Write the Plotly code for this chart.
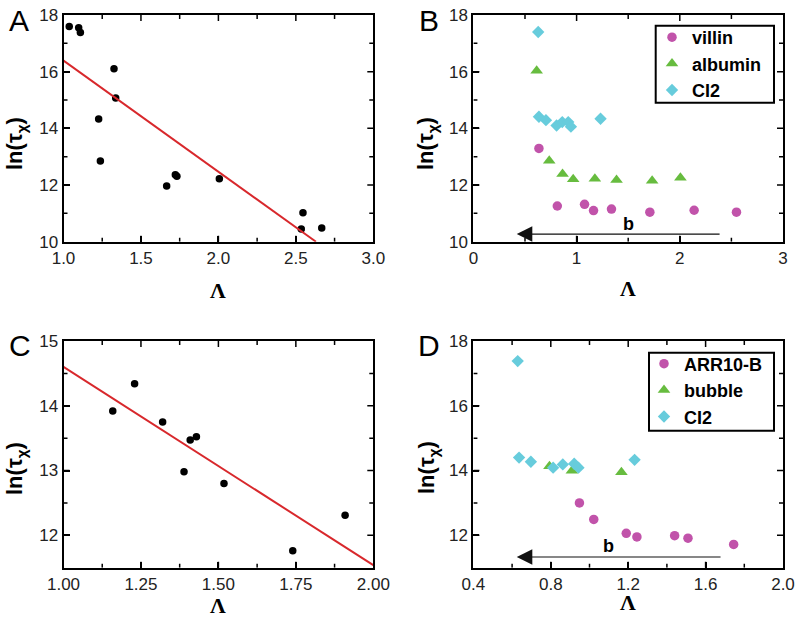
import plotly.graph_objects as go

# ---------------- data ----------------
# Panel A
a_lam = [1.037, 1.098, 1.109, 1.326, 1.337, 1.227, 1.238, 1.666, 1.722, 1.732, 2.006, 2.546, 2.535, 2.667]
a_ln = [17.59, 17.55, 17.38, 16.10, 15.07, 14.33, 12.85, 11.97, 12.36, 12.31, 12.22, 11.02, 10.45, 10.48]
a_fit_lam = [1.0, 2.63]
a_fit_ln = [16.39, 10.0]
a_xticks = [1.0, 1.5, 2.0, 2.5, 3.0]
a_xminor = [1.25, 1.75, 2.25, 2.75]
a_yticks = [10, 12, 14, 16, 18]
a_yminor = [11, 13, 15, 17]

# Panel B
b_villin_lam = [0.635, 0.813, 1.077, 1.164, 1.338, 1.710, 2.139, 2.549]
b_villin_ln = [13.29, 11.26, 11.32, 11.10, 11.15, 11.04, 11.11, 11.04]
b_albumin_lam = [0.613, 0.735, 0.864, 0.967, 1.177, 1.387, 1.732, 2.006]
b_albumin_ln = [16.03, 12.86, 12.39, 12.20, 12.22, 12.18, 12.15, 12.26]
b_ci2_lam = [0.628, 0.635, 0.703, 0.806, 0.861, 0.919, 0.945, 1.232]
b_ci2_ln = [17.40, 14.41, 14.29, 14.10, 14.22, 14.22, 14.06, 14.34]
b_arrow = {"tail": [2.40, 10.27], "head": [0.42, 10.27], "label": [1.506, 10.61]}
b_xticks = [0, 1, 2, 3]
b_xminor = [0.5, 1.5, 2.5]
b_yticks = [10, 12, 14, 16, 18]
b_yminor = [11, 13, 15, 17]

# Panel C
c_lam = [1.159, 1.2295, 1.320, 1.409, 1.429, 1.389, 1.518, 1.740, 1.909]
c_ln = [13.92, 14.34, 13.75, 13.47, 13.52, 12.98, 12.80, 11.76, 12.31]
c_fit_lam = [1.0, 2.0]
c_fit_ln = [14.60, 11.54]
c_xticks = [1.0, 1.25, 1.5, 1.75, 2.0]
c_xminor = [1.125, 1.375, 1.625, 1.875]
c_yticks = [12, 13, 14, 15]
c_yminor = [12.5, 13.5, 14.5]

# Panel D
d_arr_lam = [0.948, 1.022, 1.19, 1.245, 1.440, 1.509, 1.745]
d_arr_ln = [13.00, 12.49, 12.06, 11.95, 11.99, 11.91, 11.72]
d_bubble_lam = [0.793, 0.909, 1.165]
d_bubble_ln = [14.13, 13.99, 13.95]
d_ci2_lam = [0.629, 0.636, 0.697, 0.812, 0.862, 0.921, 0.943, 1.233]
d_ci2_ln = [17.38, 14.40, 14.27, 14.09, 14.19, 14.21, 14.09, 14.33]
d_arrow = {"tail": [1.685, 11.33], "head": [0.624, 11.33], "label": [1.098, 11.67]}
d_xticks = [0.4, 0.8, 1.2, 1.6, 2.0]
d_xminor = [0.6, 1.0, 1.4, 1.8]
d_yticks = [12, 14, 16, 18]
d_yminor = [13, 15, 17]

panel_letters = ["A", "B", "C", "D"]

# ---------------- styling ----------------
W, H = 799, 624
MAG = "#C153AA"
GRN = "#67BC3F"
CYA = "#67CCDC"
RED = "#D8282C"
SANS = "Liberation Sans, Arial, sans-serif"
MAJ_LEN, MIN_LEN = 6, 4

# plot-area pixel boxes (left, right, top, bottom)
BOX_A = (63.5, 373.3, 15, 241.7)
BOX_B = (473.4, 783.0, 15, 241.7)
BOX_C = (63.5, 373.3, 341, 567.7)
BOX_D = (473.4, 783.0, 341, 567.7)


def px_x(p):
    return p / W


def px_y(p):
    return 1 - p / H


fig = go.Figure()

fig.add_trace(go.Scatter(x=a_lam, y=a_ln, mode="markers", xaxis="x", yaxis="y",
                         marker=dict(color="black", size=7.5), showlegend=False))
fig.add_trace(go.Scatter(x=a_fit_lam, y=a_fit_ln, mode="lines", xaxis="x", yaxis="y",
                         line=dict(color=RED, width=2), showlegend=False))

fig.add_trace(go.Scatter(x=b_villin_lam, y=b_villin_ln, mode="markers", name="villin",
                         xaxis="x2", yaxis="y2", legend="legend",
                         marker=dict(color=MAG, size=9.5, symbol="circle")))
fig.add_trace(go.Scatter(x=b_albumin_lam, y=b_albumin_ln, mode="markers", name="albumin",
                         xaxis="x2", yaxis="y2", legend="legend",
                         marker=dict(color=GRN, size=11, symbol="triangle-up")))
fig.add_trace(go.Scatter(x=b_ci2_lam, y=b_ci2_ln, mode="markers", name="CI2",
                         xaxis="x2", yaxis="y2", legend="legend",
                         marker=dict(color=CYA, size=9.5, symbol="diamond")))

fig.add_trace(go.Scatter(x=c_lam, y=c_ln, mode="markers", xaxis="x3", yaxis="y3",
                         marker=dict(color="black", size=7.5), showlegend=False))
fig.add_trace(go.Scatter(x=c_fit_lam, y=c_fit_ln, mode="lines", xaxis="x3", yaxis="y3",
                         line=dict(color=RED, width=2), showlegend=False))

fig.add_trace(go.Scatter(x=d_arr_lam, y=d_arr_ln, mode="markers", name="ARR10-B",
                         xaxis="x4", yaxis="y4", legend="legend2",
                         marker=dict(color=MAG, size=9.5, symbol="circle")))
fig.add_trace(go.Scatter(x=d_bubble_lam, y=d_bubble_ln, mode="markers", name="bubble",
                         xaxis="x4", yaxis="y4", legend="legend2",
                         marker=dict(color=GRN, size=11, symbol="triangle-up")))
fig.add_trace(go.Scatter(x=d_ci2_lam, y=d_ci2_ln, mode="markers", name="CI2",
                         xaxis="x4", yaxis="y4", legend="legend2",
                         marker=dict(color=CYA, size=9.5, symbol="diamond")))

ranges = {
    ("x", "y"): ([1, 3], [10, 18]),
    ("x2", "y2"): ([0, 3], [10, 18]),
    ("x3", "y3"): ([1, 2], [11.5, 15]),
    ("x4", "y4"): ([0.4, 2.0], [11, 18]),
}
panels = {
    ("x", "y"): (BOX_A, a_xticks, a_xminor, a_yticks, a_yminor),
    ("x2", "y2"): (BOX_B, b_xticks, b_xminor, b_yticks, b_yminor),
    ("x3", "y3"): (BOX_C, c_xticks, c_xminor, c_yticks, c_yminor),
    ("x4", "y4"): (BOX_D, d_xticks, d_xminor, d_yticks, d_yminor),
}

# inside tick marks on all four sides of each frame
for (xr, yr), (box, xmaj, xmin_, ymaj, ymin_) in panels.items():
    (x0r, x1r), (y0r, y1r) = ranges[(xr, yr)]
    wpx, hpx = box[1] - box[0], box[3] - box[2]
    tx, ty = [], []
    for vals, L in ((xmaj, MAJ_LEN), (xmin_, MIN_LEN)):
        dy = L * (y1r - y0r) / hpx
        for v in vals:
            if v <= x0r or v >= x1r:
                continue
            tx += [v, v, None, v, v, None]
            ty += [y0r, y0r + dy, None, y1r, y1r - dy, None]
    for vals, L in ((ymaj, MAJ_LEN), (ymin_, MIN_LEN)):
        dx = L * (x1r - x0r) / wpx
        for v in vals:
            if v <= y0r or v >= y1r:
                continue
            tx += [x0r, x0r + dx, None, x1r, x1r - dx, None]
            ty += [v, v, None, v, v, None]
    fig.add_trace(go.Scatter(x=tx, y=ty, mode="lines", xaxis=xr, yaxis=yr,
                             line=dict(color="black", width=1.5), hoverinfo="skip",
                             showlegend=False))


def axis(box, horizontal, rng, tickvals, fmt, anchor):
    if horizontal:
        domain = [px_x(box[0]), px_x(box[1])]
    else:
        domain = [px_y(box[3]), px_y(box[2])]
    return dict(domain=domain, range=rng, tickmode="array", tickvals=tickvals, tickformat=fmt,
                showline=True, mirror=True, linecolor="black", linewidth=2,
                ticks="inside", ticklen=6, tickwidth=1.5, tickcolor="black",
                showgrid=False, zeroline=False, anchor=anchor, automargin=False,
                tickfont=dict(family=SANS, size=17, color="#222"))


legend_boxes = [
    dict(type="rect", xref="paper", yref="paper", x0=px_x(655.7), x1=px_x(774),
         y0=px_y(102.7), y1=px_y(25.7), line=dict(color="black", width=2)),
    dict(type="rect", xref="paper", yref="paper", x0=px_x(649), x1=px_x(774),
         y0=px_y(430.7), y1=px_y(352.7), line=dict(color="black", width=2)),
]

leg_font = dict(family=SANS, size=18, color="black", weight="bold")
fig.update_layout(
    width=W, height=H, margin=dict(l=0, r=0, t=0, b=0),
    paper_bgcolor="white", plot_bgcolor="white",
    xaxis=axis(BOX_A, True, ranges[("x", "y")][0], a_xticks, ".1f", "y"),
    yaxis=axis(BOX_A, False, ranges[("x", "y")][1], a_yticks, "d", "x"),
    xaxis2=axis(BOX_B, True, ranges[("x2", "y2")][0], b_xticks, "d", "y2"),
    yaxis2=axis(BOX_B, False, ranges[("x2", "y2")][1], b_yticks, "d", "x2"),
    xaxis3=axis(BOX_C, True, ranges[("x3", "y3")][0], c_xticks, ".2f", "y3"),
    yaxis3=axis(BOX_C, False, ranges[("x3", "y3")][1], c_yticks, "d", "x3"),
    xaxis4=axis(BOX_D, True, ranges[("x4", "y4")][0], d_xticks, ".1f", "y4"),
    yaxis4=axis(BOX_D, False, ranges[("x4", "y4")][1], d_yticks, "d", "x4"),
    legend=dict(x=px_x(652), y=px_y(19), xanchor="left", yanchor="top",
                borderwidth=0, bgcolor="rgba(0,0,0,0)",
                font=leg_font, tracegroupgap=0),
    legend2=dict(x=px_x(644), y=px_y(345.5), xanchor="left", yanchor="top",
                 borderwidth=0, bgcolor="rgba(0,0,0,0)",
                 font=leg_font, tracegroupgap=0),
    shapes=legend_boxes,
)

ann = []
letter_pos = [(19, 21), (429, 21), (20, 345), (429, 345)]
for t, (x, y) in zip(panel_letters, letter_pos):
    ann.append(dict(text=t, x=px_x(x), y=px_y(y), xref="paper", yref="paper",
                    xanchor="center", yanchor="middle", showarrow=False,
                    font=dict(family=SANS, size=30, color="black")))
for (x, y) in [(16, 144), (427, 144), (16, 469), (428, 468)]:
    ann.append(dict(text="<b>ln(τ<sub>χ</sub>)</b>", x=px_x(x), y=px_y(y),
                    xref="paper", yref="paper", xanchor="center", yanchor="middle",
                    textangle=-90, showarrow=False,
                    font=dict(family=SANS, size=22, color="black")))
for (x, y) in [(218, 290), (628, 288), (218, 605), (628, 602)]:
    ann.append(dict(text="<b>Λ</b>", x=px_x(x), y=px_y(y), xref="paper", yref="paper",
                    xanchor="center", yanchor="middle", showarrow=False,
                    font=dict(family="Liberation Serif, Times New Roman, serif", size=22,
                              color="black")))
for arr, xr, yr in [(b_arrow, "x2", "y2"), (d_arrow, "x4", "y4")]:
    ann.append(dict(x=arr["head"][0], y=arr["head"][1], ax=arr["tail"][0], ay=arr["tail"][1],
                    xref=xr, yref=yr, axref=xr, ayref=yr, text="", showarrow=True,
                    arrowhead=2, arrowsize=2.6, arrowwidth=1.2, arrowcolor="#111"))
    ann.append(dict(x=arr["label"][0], y=arr["label"][1], xref=xr, yref=yr, text="<b>b</b>",
                    showarrow=False, font=dict(family=SANS, size=18, color="black")))
fig.update_layout(annotations=ann)

fig.write_html("out.html", config={"displayModeBar": False},
               post_script="document.body.style.margin='0';document.body.style.overflow='hidden';")
